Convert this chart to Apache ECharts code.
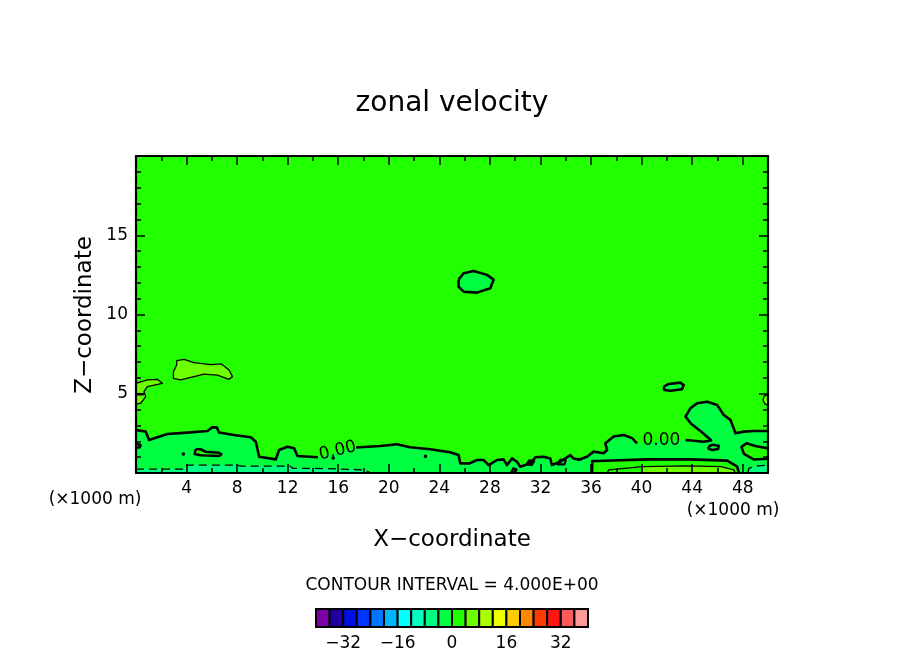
<!DOCTYPE html>
<html><head><meta charset="utf-8">
<script src="https://cdn.jsdelivr.net/npm/echarts@6/dist/echarts.min.js"></script>
<style>html,body{margin:0;padding:0;background:#fff}#chart{width:904px;height:654px}</style>
</head><body><div id="chart"></div>
<script>
// ---------- data (x in 1000 m, z in 1000 m) ----------
// zero contour bounding the negative layer near the ground (split at the label gaps)
const zeroLeft = [[0,2.71],[0.77,2.61],[1.03,2.08],[2.48,2.46],[4.06,2.55],[5.65,2.65],[6.04,2.88],[6.39,2.88],[6.57,2.55],[7.76,2.40],[9.08,2.26],[9.48,1.97],[9.74,1.03],[11.06,0.86],[11.32,1.45],[11.98,1.66],[12.51,1.56],[12.77,1.07],[14.4,0.99]];
const zeroMid = [[17.42,1.61],[19.32,1.70],[20.64,1.81],[21.69,1.62],[23.28,1.50],[24.86,1.31],[25.52,1.13],[25.65,0.61],[26.4,0.61],[26.97,0.82],[27.5,0.82],[27.9,0.5],[28.56,0.82],[29.08,0.86],[29.35,0.5],[29.75,0.92],[30.14,0.71],[30.4,0.4],[31.2,0.61],[31.6,0.99],[32.25,1.03],[32.78,0.92],[32.9,0.5],[33.57,0.71],[34.36,1.13],[34.6,0.92],[35.1,0.85],[35.68,1.03],[36.2,1.35],[37.0,1.25],[37.27,1.45],[37.13,1.87],[37.79,2.3],[38.58,2.4],[39.25,2.2],[39.64,1.87]];
const zeroRight = [[43.47,2.08],[44.92,1.97],[45.5,2.06],[44.7,2.62],[43.9,3.12],[43.47,3.56],[43.86,4.08],[44.39,4.4],[45.19,4.5],[45.98,4.29],[46.5,3.66],[47.03,3.35],[47.43,2.51],[48.09,2.61],[48.88,2.65],[50,2.65]];
// closed zero contours (negative inside)
const ellipseA = [[25.52,12.2],[25.92,12.6],[26.71,12.75],[27.77,12.5],[28.29,12.2],[28.03,11.66],[26.97,11.38],[25.92,11.44],[25.52,11.75]];
const ellipseB = [[41.75,5.45],[42.15,5.62],[43.07,5.7],[43.33,5.55],[43.2,5.28],[42.28,5.19],[41.8,5.24]];
const ellipseC = [[45.3,1.66],[45.6,1.78],[46.1,1.72],[46.05,1.52],[45.6,1.45],[45.3,1.53]];
// small ragged zero loops near the ground
const loop1 = [[30.9,0.55],[31.1,0.8],[31.5,0.75],[31.3,0.5]];
const loop2 = [[33.3,0.55],[33.6,0.85],[34.0,0.8],[33.9,0.55]];
const loop3 = [[29.7,0.05],[29.85,0.3],[30.1,0.22],[30.0,0.05]];
// zero contours with positive inside
const posIslandL = [[4.72,1.5],[5.12,1.5],[5.51,1.34],[6.57,1.28],[6.75,1.18],[6.57,1.07],[5.12,1.12],[4.64,1.2]];
const posBottom = [[36.08,0],[36.1,0.75],[36.47,0.76],[40.43,0.86],[43.86,0.86],[46.77,0.78],[47.56,0.4],[47.7,0]];
const posRightLoop = [[50,1.55],[49.0,1.7],[48.3,1.88],[47.9,1.65],[48.1,1.2],[48.9,0.85],[50,0.9]];
const leftLoop = [[0,1.85],[0.35,1.76],[0.3,1.62],[0,1.58]];
const zeroFrag = [[0,4.97],[0.6,4.97]];
const specks = [[3.75,1.2],[15.6,0.95],[22.9,1.05],[35.0,0.85]];
// -4 contours (dashed)
const neg4Left = [[0,0.25],[3.8,0.25],[4.0,0.5],[8.0,0.5],[8.3,0.43],[12.2,0.43],[12.4,0.3],[15.0,0.28],[18.0,0.2],[18.6,0]];
const neg4Right = [[48.4,0],[48.5,0.3],[49.2,0.45],[50,0.5]];
// +4 contours (thin)
const posBlobA = [[3.22,7.09],[3.80,7.17],[4.59,6.96],[5.91,6.84],[6.76,6.88],[7.36,6.5],[7.63,6.08],[7.36,5.91],[6.44,6.18],[5.38,6.24],[4.59,6.08],[3.54,5.87],[2.96,5.97],[2.96,6.39],[3.22,6.82]];
const posBlobB = [[0,5.66],[0.9,5.87],[1.69,5.91],[2.08,5.66],[0.9,5.45],[0.63,5.13],[0.77,4.82],[0.37,4.40],[0,4.35]];
const posBlobC = [[50,4.95],[49.7,4.85],[49.6,4.6],[49.75,4.35],[50,4.3]];
const fourBottom = [[37.27,0],[37.4,0.2],[40.1,0.4],[43.5,0.45],[46.3,0.4],[47.3,0.2],[47.4,0]];
const fourBottomFill = [[40.1,0],[40.1,0.4],[43.5,0.45],[46.3,0.4],[47.3,0.2],[47.4,0]];
// contour labels
const labelText = ['0.00','0.00'];
const labelPos = [[15.95,1.4],[41.57,2.05]];
const labelAngle = [13, 0];
// colour bar
const cbEdges = [-40,-36,-32,-28,-24,-20,-16,-12,-8,-4,0,4,8,12,16,20,24,28,32,36,40];
const cbColors = ['#7F00A8','#2000A0','#0010E0','#0034FF','#0074FF','#00B6FF','#00FFFF','#00FFC0','#00FF80','#00FF40','#22FF00','#6CFF00','#AAFF00','#EEFF00','#FFCC00','#FF8800','#FF3C00','#FF1414','#FF5A5A','#FF9A9A'];
const xTicks = [4,8,12,16,20,24,28,32,36,40,44,48];
const zTicks = [5,10,15];

// ---------- styling ----------
const FONT = '"DejaVu Sans", sans-serif';
const C_NEG4 = cbColors[8], C_NEG0 = cbColors[9], C_POS0 = cbColors[10], C_POS4 = cbColors[11];

const layers = [
  {kind:'fill', pts:[].concat(zeroLeft, zeroMid, zeroRight, [[50,0],[0,0]]), color:C_NEG0},
  {kind:'fill', pts:ellipseA, color:C_NEG0},
  {kind:'fill', pts:ellipseB, color:C_NEG0},
  {kind:'fill', pts:neg4Left.concat([[0,0]]), color:C_NEG4},
  {kind:'fill', pts:neg4Right.concat([[50,0]]), color:C_NEG4},
  {kind:'fill', pts:posIslandL, color:C_POS0},
  {kind:'fill', pts:posBottom, color:C_POS0},
  {kind:'fill', pts:posRightLoop, color:C_POS0},
  {kind:'fill', pts:posBlobA, color:C_POS4},
  {kind:'fill', pts:posBlobB, color:C_POS4},
  {kind:'fill', pts:posBlobC, color:C_POS4},
  {kind:'fill', pts:fourBottomFill, color:C_POS4},
  {kind:'line', pts:zeroLeft, w:2.6},
  {kind:'line', pts:zeroMid, w:2.6},
  {kind:'line', pts:zeroRight, w:2.6},
  {kind:'line', pts:ellipseA, w:2.6, closed:true},
  {kind:'line', pts:ellipseB, w:2.6, closed:true},
  {kind:'line', pts:ellipseC, w:2.6, closed:true},
  {kind:'line', pts:loop1, w:2.2, closed:true},
  {kind:'line', pts:loop2, w:2.2, closed:true},
  {kind:'line', pts:loop3, w:2.2, closed:true},
  {kind:'line', pts:posIslandL, w:2.6, closed:true},
  {kind:'line', pts:posBottom, w:2.6},
  {kind:'line', pts:posRightLoop, w:2.6},
  {kind:'line', pts:leftLoop, w:2.6},
  {kind:'line', pts:zeroFrag, w:2.6},
  {kind:'line', pts:neg4Left, w:1.3, dash:[8,5]},
  {kind:'line', pts:neg4Right, w:1.3, dash:[8,5]},
  {kind:'line', pts:posBlobA, w:1.3, closed:true},
  {kind:'line', pts:posBlobB, w:1.3},
  {kind:'line', pts:posBlobC, w:1.3},
  {kind:'line', pts:fourBottom, w:1.3}
];
specks.forEach(p => layers.push({kind:'dot', pts:[p]}));

function renderLayer(params, api) {
  const L = layers[params.dataIndex];
  const pts = L.pts.map(p => api.coord(p));
  if (L.kind === 'fill') return {type:'polygon', shape:{points:pts}, style:{fill:L.color, stroke:null}};
  if (L.kind === 'dot') return {type:'circle', shape:{cx:pts[0][0], cy:pts[0][1], r:1.8}, style:{fill:'#000'}};
  return {type:'polyline', shape:{points: L.closed ? pts.concat([pts[0]]) : pts},
    style:{stroke:'#000', lineWidth:L.w, lineDash:L.dash || null, fill:null, lineJoin:'round'}};
}
function renderLabel(params, api) {
  const i = params.dataIndex;
  const c = api.coord(labelPos[i]);
  return {type:'text', x:c[0], y:c[1], rotation: labelAngle[i] * Math.PI / 180,
    style:{text:labelText[i], font:'17px ' + FONT, fill:'#000', align:'center', verticalAlign:'middle', textAlign:'center', textVerticalAlign:'middle'}};
}
function renderBar(params, api) {
  const i = params.dataIndex;
  const a = api.coord([cbEdges[i], 1]), b = api.coord([cbEdges[i+1], 0]);
  return {type:'rect', shape:{x:a[0], y:a[1], width:b[0]-a[0], height:b[1]-a[1]},
    style:{fill:cbColors[i], stroke:'#000', lineWidth:2}};
}

const tickStyle = {color:'#000', width:1.5};
function mkX(pos, labels) {
  return {gridIndex:0, type:'value', min:0, max:50, interval:4, position:pos, z:10,
    axisLine:{show:true, onZero:false, lineStyle:{color:'#000', width:2.2}},
    axisTick:{show:true, inside:true, length:9, lineStyle:tickStyle},
    minorTick:{show:true, splitNumber:2, length:5, lineStyle:tickStyle},
    splitLine:{show:false}, minorSplitLine:{show:false},
    axisLabel:{show:labels, interval:0, margin:7, color:'#000', fontSize:17, fontFamily:FONT,
      formatter: v => xTicks.indexOf(v) >= 0 ? String(v) : ''}};
}
function mkY(pos, labels) {
  return {gridIndex:0, type:'value', min:0, max:20, interval:5, position:pos, z:10,
    axisLine:{show:true, onZero:false, lineStyle:{color:'#000', width:2.2}},
    axisTick:{show:true, inside:true, length:9, lineStyle:tickStyle},
    minorTick:{show:true, splitNumber:5, length:5, lineStyle:tickStyle},
    splitLine:{show:false}, minorSplitLine:{show:false},
    axisLabel:{show:labels, interval:0, margin:8, color:'#000', fontSize:17, fontFamily:FONT,
      formatter: v => zTicks.indexOf(v) >= 0 ? String(v) : ''}};
}

function txt(text, x, y, size, rot) {
  return {type:'text', x:x, y:y, rotation:rot || 0, z:20,
    style:{text:text, font:size + 'px ' + FONT, fill:'#000', align:'center', verticalAlign:'middle', textAlign:'center', textVerticalAlign:'middle'}};
}

const option = {
  animation:false,
  backgroundColor:'#fff',
  grid:[
    {left:136, top:156, width:632, height:317, show:true, backgroundColor:C_POS0, borderWidth:0},
    {left:316, top:609, width:272, height:18}
  ],
  xAxis:[ mkX('bottom', true), mkX('top', false),
    {gridIndex:1, type:'value', min:-40, max:40, interval:8, axisLine:{show:false}, axisTick:{show:false}, splitLine:{show:false},
      axisLabel:{interval:0, margin:8, color:'#000', fontSize:17, fontFamily:FONT,
        formatter: v => (v % 16 === 0 && Math.abs(v) < 40) ? (v < 0 ? '\u2212' + (-v) : String(v)) : ''}} ],
  yAxis:[ mkY('left', true), mkY('right', false),
    {gridIndex:1, type:'value', min:0, max:1, show:false} ],
  series:[
    {type:'custom', xAxisIndex:0, yAxisIndex:0, clip:true, renderItem:renderLayer, data:layers.map(() => [0,0]), silent:true},
    {type:'custom', xAxisIndex:0, yAxisIndex:0, clip:true, renderItem:renderLabel, data:labelPos.map(() => [0,0]), silent:true},
    {type:'custom', xAxisIndex:2, yAxisIndex:2, renderItem:renderBar, data:cbColors.map(() => [0,0]), silent:true}
  ],
  graphic:[
    txt('zonal velocity', 452, 104, 28),
    txt('X\u2212coordinate', 452, 540, 23),
    txt('Z\u2212coordinate', 85, 315, 23, Math.PI/2),
    txt('(\u00d71000 m)', 95, 500, 17),
    txt('(\u00d71000 m)', 733, 511, 17),
    txt('CONTOUR INTERVAL = 4.000E+00', 452, 586, 17)
  ]
};
const chart = echarts.init(document.getElementById('chart'), null, {renderer:'canvas'});
chart.setOption(option);
</script>
</body></html>
